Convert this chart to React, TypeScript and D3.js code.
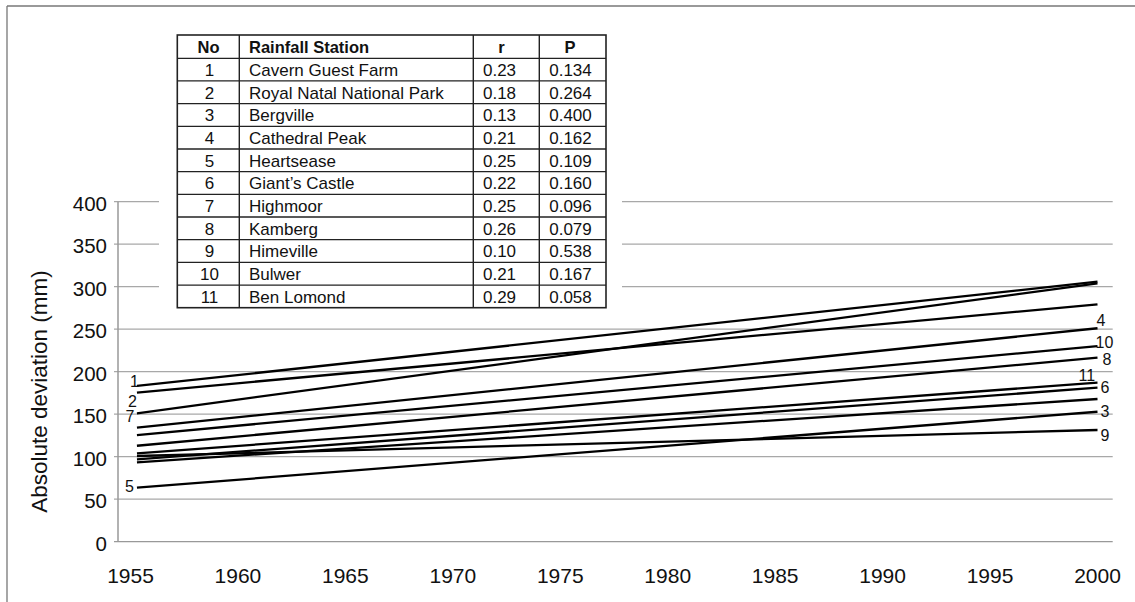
import React from "react";
import * as d3 from "d3";

// ---------- data ----------
const xTickYears = [1955, 1960, 1965, 1970, 1975, 1980, 1985, 1990, 1995, 2000];
const yTickValues = [0, 50, 100, 150, 200, 250, 300, 350, 400];

const trendStartYear = 1955.3;
const trendEndYear = 2000;

// each trend line: value in trendStartYear and in trendEndYear (mm)
const startValues = [183.2, 175.5, 151.1, 134.1, 125.5, 112.9, 104.0, 96.9, 93.4, 100.8, 63.5];
const endValues = [305.9, 279.3, 304.0, 251.1, 230.2, 216.5, 187.1, 181.2, 167.9, 131.4, 152.9];
const leftLabels = ["1", "2", "7", "", "", "", "", "", "", "", "5"];
const rightLabels = ["", "", "", "4", "10", "8", "11", "6", "", "9", "3"];

const tableNo = ["1", "2", "3", "4", "5", "6", "7", "8", "9", "10", "11"];
const tableStation = [
  "Cavern Guest Farm",
  "Royal Natal National Park",
  "Bergville",
  "Cathedral Peak",
  "Heartsease",
  "Giant\u2019s Castle",
  "Highmoor",
  "Kamberg",
  "Himeville",
  "Bulwer",
  "Ben Lomond",
];
const tableR = ["0.23", "0.18", "0.13", "0.21", "0.25", "0.22", "0.25", "0.26", "0.10", "0.21", "0.29"];
const tableP = ["0.134", "0.264", "0.400", "0.162", "0.109", "0.160", "0.096", "0.079", "0.538", "0.167", "0.058"];

// ---------- label nudges (pixels) ----------
const leftLabelOffset: Record<string, [number, number]> = {
  "1": [2, -5],
  "2": [0, 8.5],
  "7": [-2.5, 3.4],
  "5": [-3, -1],
};
const rightLabelOffset: Record<string, [number, number]> = {
  "4": [-1, -7.8],
  "10": [-2, -4],
  "8": [5, 2],
  "11": [-19, -7],
  "6": [3, 0],
  "3": [3, 0],
  "9": [3, 5],
};

const FONT = "'Liberation Sans', Arial, Helvetica, sans-serif";

export default function App() {
  const W = 1135;
  const H = 602;
  const axisLeft = 118;
  const axisRight = 1112.7;

  const x = d3.scaleLinear().domain([1955, 2000]).range([130.5, 1097.5]);
  const y = d3.scaleLinear().domain([0, 400]).range([541.7, 201.7]);

  const line = d3
    .line<[number, number]>()
    .x((d) => x(d[0]))
    .y((d) => y(d[1]));

  // table layout
  const tLeft = 177.3;
  const tRight = 606;
  const colX = [tLeft, 239.3, 473.3, 539.3, tRight];
  const tTop = 35;
  const headBottom = 58.3;
  const rowH = (307.7 - headBottom) / 11;
  const tBottom = headBottom + rowH * 11;

  return (
    <svg
      width={W}
      height={H}
      style={{ position: "absolute", left: 0, top: 0, background: "#fff" }}
      fontFamily={FONT}
    >
      <rect x={0} y={0} width={W} height={H} fill="#fff" />
      {/* outer frame */}
      <line x1={7} y1={6} x2={W} y2={6} stroke="#777" strokeWidth={1.3} />
      <line x1={7} y1={6} x2={7} y2={H} stroke="#777" strokeWidth={1.3} />

      {/* gridlines */}
      {yTickValues.map((v) => (
        <line
          key={"g" + v}
          x1={axisLeft - 4}
          x2={axisRight}
          y1={y(v)}
          y2={y(v)}
          stroke={v === 0 ? "#999" : "#a8a8a8"}
          strokeWidth={1.3}
        />
      ))}
      {/* y axis */}
      <line x1={axisLeft} x2={axisLeft} y1={y(400)} y2={y(0)} stroke="#999" strokeWidth={1.5} />

      {/* y tick labels */}
      {yTickValues.map((v) => (
        <text
          key={"yt" + v}
          x={107}
          y={y(v) + 2}
          dy="0.35em"
          textAnchor="end"
          fontSize={20.5}
          fill="#111"
        >
          {v}
        </text>
      ))}
      {/* x tick labels */}
      {xTickYears.map((yr) => (
        <text key={"xt" + yr} x={x(yr)} y={583.3} textAnchor="middle" fontSize={21} fill="#111">
          {yr}
        </text>
      ))}
      {/* y axis title */}
      <text
        transform={`translate(46.5, 391.5) rotate(-90)`}
        textAnchor="middle"
        fontSize={22.5}
        fill="#111"
      >
        Absolute deviation (mm)
      </text>

      {/* trend lines */}
      {startValues.map((s, i) => (
        <path
          key={"l" + i}
          d={line([
            [trendStartYear, s],
            [trendEndYear, endValues[i]],
          ]) as string}
          fill="none"
          stroke="#000"
          strokeWidth={2.3}
        />
      ))}
      {/* line labels */}
      {startValues.map((s, i) => {
        const lab = leftLabels[i];
        if (!lab) return null;
        const [dx, dy] = leftLabelOffset[lab] || [0, 0];
        return (
          <text
            key={"ll" + i}
            x={x(trendStartYear) + dx}
            y={y(s) + dy}
            dy="0.35em"
            textAnchor="end"
            fontSize={16}
            fill="#111"
          >
            {lab}
          </text>
        );
      })}
      {endValues.map((e, i) => {
        const lab = rightLabels[i];
        if (!lab) return null;
        const [dx, dy] = rightLabelOffset[lab] || [0, 0];
        return (
          <text
            key={"rl" + i}
            x={x(trendEndYear) + dx}
            y={y(e) + dy}
            dy="0.35em"
            textAnchor="start"
            fontSize={16}
            fill="#111"
          >
            {lab}
          </text>
        );
      })}

      {/* table backdrop */}
      <rect x={159} y={22} width={622 - 159} height={318 - 22} fill="#fff" />
      {/* table grid */}
      <rect
        x={tLeft}
        y={tTop}
        width={tRight - tLeft}
        height={tBottom - tTop}
        fill="#fff"
        stroke="#222"
        strokeWidth={1.6}
      />
      {colX.slice(1, 4).map((cx, i) => (
        <line key={"c" + i} x1={cx} x2={cx} y1={tTop} y2={tBottom} stroke="#222" strokeWidth={1.4} />
      ))}
      {tableNo.map((_, i) => (
        <line
          key={"r" + i}
          x1={tLeft}
          x2={tRight}
          y1={headBottom + rowH * i}
          y2={headBottom + rowH * i}
          stroke="#222"
          strokeWidth={1.3}
        />
      ))}
      {/* header */}
      <g fontSize={16.5} fontWeight="bold" fill="#111">
        <text x={208.5} y={53.3} textAnchor="middle">No</text>
        <text x={249} y={53.3}>Rainfall Station</text>
        <text x={501.5} y={53.3} textAnchor="middle">r</text>
        <text x={570} y={53.3} textAnchor="middle">P</text>
      </g>
      <g fontSize={17} fill="#111">
        {tableNo.map((n, i) => {
          const by = headBottom + rowH * i + 17.7;
          return (
            <g key={"tr" + i}>
              <text x={209.5} y={by} textAnchor="middle">{n}</text>
              <text x={249} y={by}>{tableStation[i]}</text>
              <text x={499.5} y={by} textAnchor="middle">{tableR[i]}</text>
              <text x={570.5} y={by} textAnchor="middle">{tableP[i]}</text>
            </g>
          );
        })}
      </g>
    </svg>
  );
}
